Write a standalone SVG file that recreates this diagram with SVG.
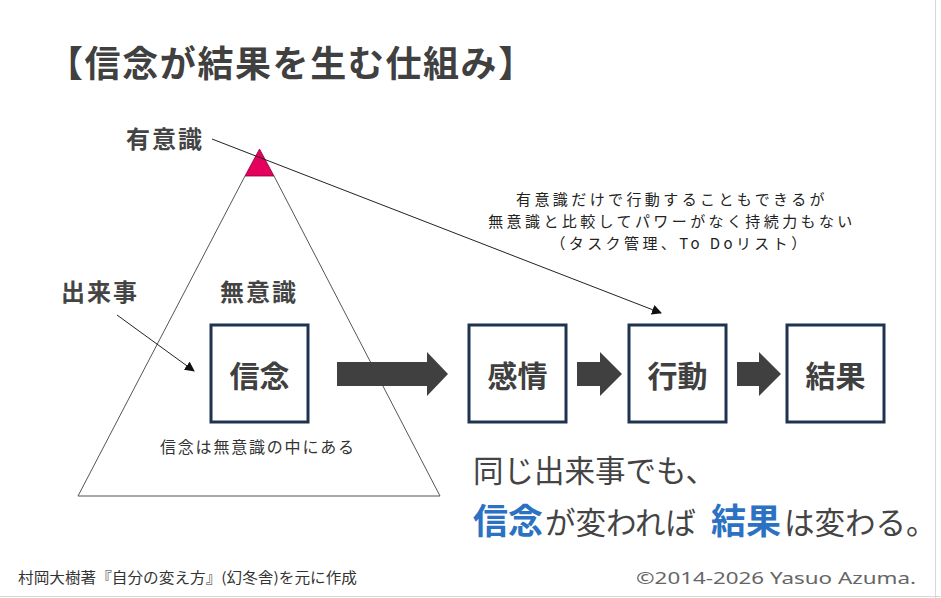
<svg xmlns="http://www.w3.org/2000/svg" width="941" height="598" viewBox="0 0 941 598">
<style>
text{font-family:"Noto Sans CJK JP","Noto Sans",sans-serif;}
.title{font-size:36px;font-weight:700;fill:#404040;letter-spacing:1.6px;}
.lbl{font-size:24px;font-weight:700;fill:#444;letter-spacing:2px;}
.box{fill:#fff;stroke:#1f3350;stroke-width:3;}
.boxt{font-size:30px;font-weight:700;fill:#404040;text-anchor:middle;}
.note{font-size:15px;fill:#222;letter-spacing:3.4px;text-anchor:middle;}
.thin{stroke:#222;stroke-width:1;fill:none;}
.blk{fill:#404040;}
.big{font-size:30.5px;fill:#444;}
.blue{font-size:35px;font-weight:700;fill:#2b72c3;}
</style>
<defs>
<marker id="ah" viewBox="0 0 10 10" refX="9" refY="5" markerWidth="10" markerHeight="10" markerUnits="userSpaceOnUse" orient="auto">
<path d="M0,0 L10,5 L0,10 z" fill="#111"/>
</marker>
</defs>
<rect width="941" height="598" fill="#fff"/>
<line x1="935.5" y1="0" x2="935.5" y2="598" stroke="#d8d8d8" stroke-width="1"/>
<line x1="0" y1="596.5" x2="941" y2="596.5" stroke="#d8d8d8" stroke-width="1"/>

<text class="title" x="47" y="77">【信念が結果を生む仕組み】</text>

<g id="pyramid">
<path d="M245,176 L78,496 L440,496 L274,176" fill="none" stroke="#555" stroke-width="1"/>
<polygon points="259.5,149 245,176 274,176" fill="#e6005e" stroke="#8a0036" stroke-width="0.8"/>
</g>

<g id="label-yuishiki"><text class="lbl" x="126" y="148">有意識</text></g>
<g id="label-dekigoto"><text class="lbl" x="61" y="301">出来事</text></g>
<g id="label-muishiki"><text class="lbl" x="220" y="301">無意識</text></g>

<g id="node-shinnen">
<rect class="box" x="211" y="325" width="97" height="97"/>
<text class="boxt" x="259.5" y="387">信念</text>
</g>
<g id="node-kanjou">
<rect class="box" x="469" y="325" width="97" height="97"/>
<text class="boxt" x="517.5" y="387">感情</text>
</g>
<g id="node-koudou">
<rect class="box" x="629" y="325" width="97" height="97"/>
<text class="boxt" x="677.5" y="387">行動</text>
</g>
<g id="node-kekka">
<rect class="box" x="787" y="325" width="97" height="97"/>
<text class="boxt" x="835.5" y="387">結果</text>
</g>

<g id="connectors">
<polygon class="blk" points="337,362 427,362 427,352 448,374 427,396 427,386 337,386"/>
<polygon class="blk" points="577,362 600,362 600,352 622,374 600,396 600,386 577,386"/>
<polygon class="blk" points="737,362 759,362 759,352 781,374 759,396 759,386 737,386"/>
<line class="thin" x1="212" y1="139" x2="661" y2="313" marker-end="url(#ah)"/>
<line class="thin" x1="117" y1="315" x2="194" y2="371" marker-end="url(#ah)"/>
</g>

<g id="note">
<text class="note" x="672" y="205">有意識だけで行動することもできるが</text>
<text class="note" x="672" y="227">無意識と比較してパワーがなく持続力もない</text>
<text class="note" x="680" y="249">（タスク管理、To Doリスト）</text>
</g>

<text x="160" y="453" font-size="16" fill="#333" letter-spacing="1.8">信念は無意識の中にある</text>

<g id="message">
<text class="big" x="473" y="482" font-size="29">同じ出来事でも、</text>
<text y="534"><tspan class="blue" x="473">信念</tspan><tspan class="big" x="545">が変われば</tspan><tspan class="blue" x="711">結果</tspan><tspan class="big" x="784">は変わる。</tspan></text>
</g>

<text x="18" y="583" font-size="14.5" fill="#333" textLength="339" lengthAdjust="spacingAndGlyphs">村岡大樹著『自分の変え方』(幻冬舎)を元に作成</text>
<text x="636" y="584" font-size="17" fill="#666" style="font-family:'Noto Sans','Liberation Sans',sans-serif" textLength="280" lengthAdjust="spacingAndGlyphs">©2014-2026 Yasuo Azuma.</text>
</svg>
